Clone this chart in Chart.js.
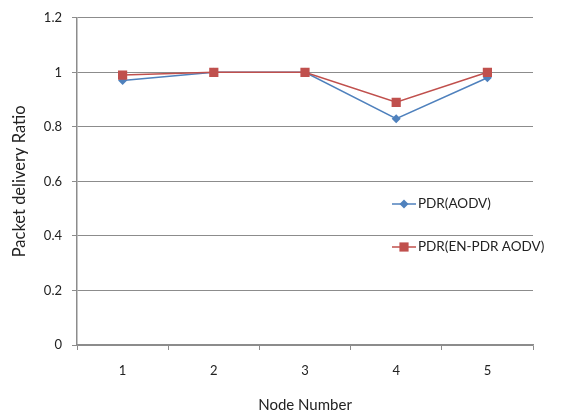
<!DOCTYPE html>
<html>
<head>
<meta charset="utf-8">
<script src="https://cdn.jsdelivr.net/npm/chart.js@4"></script>
<style>
  html, body { margin: 0; padding: 0; background: #fff; }
  #wrap { width: 563px; height: 418px; }
</style>
</head>
<body>
<div id="wrap"><canvas id="pdrChart" width="563" height="418"></canvas></div>
<script>
// chart values
var nodeLabels = ['1', '2', '3', '4', '5'];
var pdrAodv = [0.97, 1.0, 1.0, 0.83, 0.98];
var pdrEnPdr = [0.99, 1.0, 1.0, 0.89, 1.0];
var seriesNames = ['PDR(AODV)', 'PDR(EN-PDR AODV)'];

var blue = '#4F81BD';
var red = '#C0504D';
var gridGrey = '#8c8c8c';
var fontFamily = 'Lato, "Open Sans", sans-serif';

// legend sits inside the plot, drawn by hand to keep the odd spacing
const insideLegend = {
    id: 'insideLegend',
    afterDraw(chart) {
        const ctx = chart.ctx;
        const rows = [
            { y: 204, color: blue, style: 'rectRot', radius: 4.5 },
            { y: 247, color: red, style: 'rect', radius: 6.5 }
        ];
        ctx.save();
        rows.forEach((row, i) => {
            ctx.strokeStyle = row.color;
            ctx.lineWidth = 1.5;
            ctx.beginPath();
            ctx.moveTo(392, row.y);
            ctx.lineTo(416, row.y);
            ctx.stroke();
            ctx.fillStyle = row.color;
            Chart.helpers.drawPoint(ctx, { pointStyle: row.style, radius: row.radius, borderWidth: 0 }, 404, row.y);
            ctx.fillStyle = '#222';
            ctx.font = '13.5px ' + fontFamily;
            ctx.textBaseline = 'middle';
            ctx.textAlign = 'left';
            ctx.fillText(seriesNames[i], 418, row.y);
        });
        ctx.restore();
    }
};

const ctx = document.getElementById('pdrChart').getContext('2d');
window.pdrChart = new Chart(ctx, {
    type: 'line',
    data: {
        labels: nodeLabels,
        datasets: [{
            label: seriesNames[0],
            data: pdrAodv,
            borderColor: blue,
            backgroundColor: blue,
            borderWidth: 1.5,
            pointStyle: 'rectRot',
            pointRadius: 4.5,
            pointBorderWidth: 0,
            order: 1
        }, {
            label: seriesNames[1],
            data: pdrEnPdr,
            borderColor: red,
            backgroundColor: red,
            borderWidth: 1.5,
            pointStyle: 'rect',
            pointRadius: 6.5,
            pointBorderWidth: 0,
            order: 0
        }]
    },
    options: {
        responsive: false,
        animation: false,
        layout: { padding: { top: 14, right: 30, left: 0, bottom: 0 } },
        plugins: {
            legend: { display: false },
            tooltip: { enabled: false }
        },
        scales: {
            x: {
                offset: true,
                grid: {
                    display: true,
                    drawOnChartArea: false,
                    offset: true,
                    color: gridGrey,
                    tickLength: 5
                },
                border: { color: gridGrey, width: 1.5 },
                ticks: { color: '#222', font: { family: fontFamily, size: 13 }, padding: 13, maxRotation: 0 },
                title: {
                    display: true,
                    text: 'Node Number',
                    color: '#222',
                    font: { family: fontFamily, size: 15 },
                    padding: { top: 12 }
                },
                afterFit(scale) { scale.height = 73; }
            },
            y: {
                min: 0,
                max: 1.2,
                ticks: {
                    stepSize: 0.2,
                    color: '#222',
                    font: { family: fontFamily, size: 13 },
                    padding: 10,
                    callback: v => Math.round(v * 10) / 10
                },
                grid: { color: gridGrey, lineWidth: 1, tickLength: 5 },
                border: { color: gridGrey, width: 1.5 },
                title: {
                    display: true,
                    text: 'Packet delivery Ratio',
                    color: '#222',
                    font: { family: fontFamily, size: 16.5 },
                    padding: { top: 10, bottom: 4 }
                },
                afterFit(scale) { scale.width = 77; }
            }
        }
    },
    plugins: [insideLegend]
});
</script>
</body>
</html>
